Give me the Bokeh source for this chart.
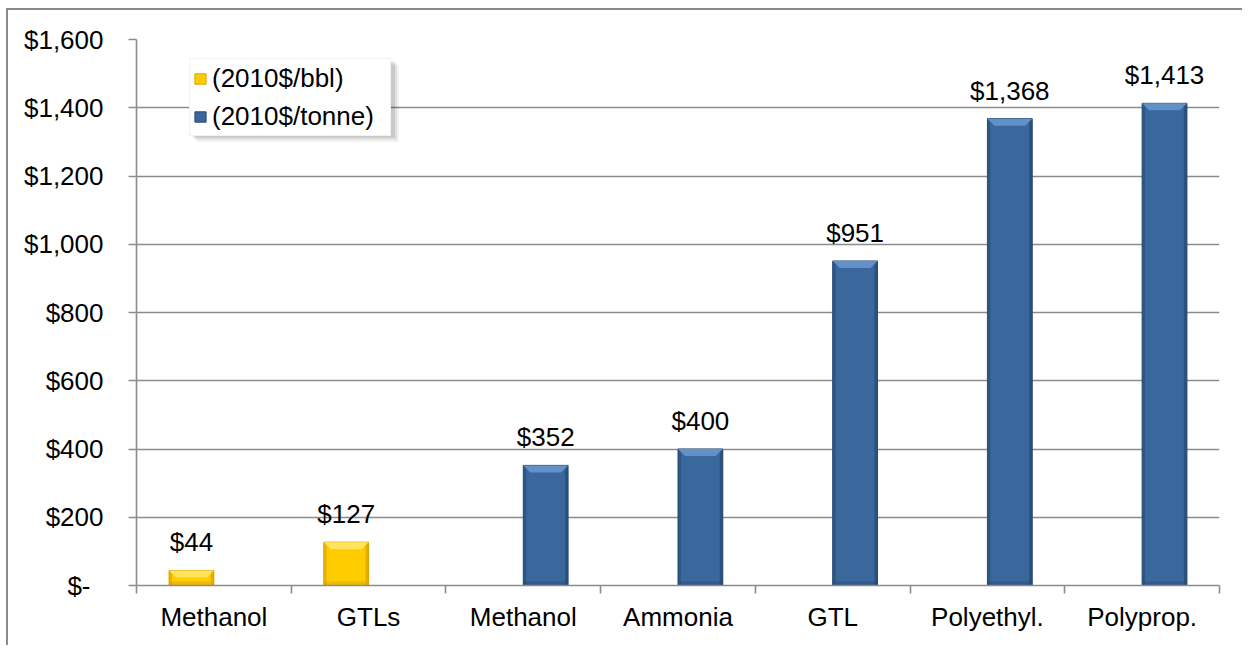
from bokeh.plotting import figure
from bokeh.models import (ColumnDataSource, FixedTicker, Legend, LegendItem,
                          BoxAnnotation, Spacer)
from bokeh.layouts import column, row
from bokeh.core.properties import value
from bokeh.embed import file_html
from bokeh.resources import INLINE

# ---------------- data ----------------
categories = ["Methanol", "GTLs", "Methanol", "Ammonia", "GTL", "Polyethyl.", "Polyprop."]
bbl_index = [0, 1]
bbl_values = [44, 127]
tonne_index = [2, 3, 4, 5, 6]
tonne_values = [352, 400, 951, 1368, 1413]
series_names = ["(2010$/bbl)", "(2010$/tonne)"]
y_ticks = [0, 200, 400, 600, 800, 1000, 1200, 1400, 1600]
y_tick_labels = ["$-\u2002", "$200", "$400", "$600", "$800", "$1,000", "$1,200", "$1,400", "$1,600"]

FONT = "Liberation Sans"
GRID = "#8c8c8c"

FW, FH = 1081, 544
YMAX = 1600
PX_X = 7.0 / FW        # data units per px (x)
PX_Y = YMAX / FH       # data units per px (y)
BAR_W = 44.7 * PX_X

p = figure(frame_width=FW, frame_height=FH, x_range=(0, len(categories)), y_range=(0, YMAX),
           output_backend="svg", toolbar_location=None,
           min_border_left=128, min_border_right=25, min_border_top=29, min_border_bottom=62,
           background_fill_color="white", border_fill_color="white",
           styles={"border-left": "2px solid #8a8a8a", "border-top": "2px solid #8a8a8a"})
p.outline_line_color = None
p.xgrid.visible = False
p.ygrid.ticker = FixedTicker(ticks=y_ticks)
p.ygrid.grid_line_color = GRID
p.ygrid.grid_line_width = 1.6


def bars(idx, vals, offset, main, light, dark):
    xs = [i + 0.5 + offset for i in idx]
    left = [x - BAR_W / 2 for x in xs]
    right = [x + BAR_W / 2 for x in xs]
    src = ColumnDataSource(dict(left=left, right=right, top=vals, bottom=[0] * len(vals)))
    r = p.quad(left="left", right="right", top="top", bottom="bottom", source=src,
               fill_color=main, line_color=dark, line_width=1)
    # bevel: side strips
    sw = 3 * PX_X
    p.quad(left=left, right=[l + sw for l in left], top=vals, bottom=[0] * len(vals),
           fill_color=dark, fill_alpha=0.55, line_color=None)
    p.quad(left=[r_ - sw for r_ in right], right=right, top=vals, bottom=[0] * len(vals),
           fill_color=dark, fill_alpha=0.75, line_color=None)
    # bottom strip
    bh = 4 * PX_Y
    p.quad(left=left, right=right, top=[min(bh, v) for v in vals], bottom=[0] * len(vals),
           fill_color=dark, fill_alpha=0.45, line_color=None)
    # top trapezoid highlight
    th = 7 * PX_Y
    ins = 7 * PX_X
    pxs = [[l, rr, rr - ins, l + ins] for l, rr in zip(left, right)]
    pys = [[v, v, v - th, v - th] for v in vals]
    p.patches(pxs, pys, fill_color=light, line_color=None)
    # labels
    p.text(x=xs, y=vals, text=[f"${v:,}" for v in vals], text_align="center",
           text_baseline="alphabetic", y_offset=-28, text_font=value(FONT),
           text_font_size="26px", text_color="black")
    return r


r_bbl = bars(bbl_index, bbl_values, -BAR_W / 2, "#FFCC00", "#FFE45C", "#D9A300")
r_ton = bars(tonne_index, tonne_values, BAR_W / 2, "#3A679C", "#6290C8", "#274A75")

# axes
xa = p.xaxis[0]
xa.ticker = FixedTicker(ticks=[i + 0.5 for i in range(len(categories))],
                        minor_ticks=list(range(len(categories) + 1)))
xa.major_label_overrides = {i + 0.5: c for i, c in enumerate(categories)}
xa.major_tick_line_color = None
xa.major_tick_out = 0
xa.major_tick_in = 0
xa.minor_tick_line_color = GRID
xa.minor_tick_line_width = 1.6
xa.minor_tick_out = 8
xa.minor_tick_in = 0
xa.axis_line_color = GRID
xa.axis_line_width = 1.6
xa.major_label_text_font = FONT
xa.major_label_text_font_size = "26px"
xa.major_label_text_color = "black"
xa.major_label_standoff = 8

ya = p.yaxis[0]
ya.ticker = FixedTicker(ticks=y_ticks, minor_ticks=[])
ya.major_label_overrides = {t: l for t, l in zip(y_ticks, y_tick_labels)}
ya.major_tick_line_color = GRID
ya.major_tick_line_width = 1.6
ya.major_tick_out = 8
ya.major_tick_in = 0
ya.minor_tick_line_color = None
ya.axis_line_color = GRID
ya.axis_line_width = 1.6
ya.major_label_text_font = FONT
ya.major_label_text_font_size = "26px"
ya.major_label_text_color = "black"
ya.major_label_standoff = 25

# legend shadow (screen px converted to data)
def px_box(x0, x1, y0, y1, alpha):
    return BoxAnnotation(left=(x0 - 136) * PX_X, right=(x1 - 136) * PX_X,
                         top=(586 - y0) * PX_Y, bottom=(586 - y1) * PX_Y,
                         fill_color="black", fill_alpha=alpha, line_color=None, level="overlay")

for k, a in [(7, 0.05), (5, 0.08), (3, 0.1)]:
    p.add_layout(px_box(189 + k, 391 + k, 61 + k, 137 + k, a))

legend = Legend(items=[LegendItem(label=series_names[0], renderers=[r_bbl]),
                       LegendItem(label=series_names[1], renderers=[r_ton])],
                location=(53, 449), orientation="vertical",
                label_text_font=FONT, label_text_font_size="26px", label_text_color="black",
                glyph_width=14, glyph_height=13, label_height=32, label_width=175,
                label_standoff=5, spacing=6, padding=3, margin=0,
                border_line_color="#e6e6e6", border_line_width=1,
                background_fill_color="white", background_fill_alpha=1.0)
p.add_layout(legend, "center")

layout = column(Spacer(height=8), row(Spacer(width=6), p))
open("out.html", "w").write(file_html(layout, INLINE))
